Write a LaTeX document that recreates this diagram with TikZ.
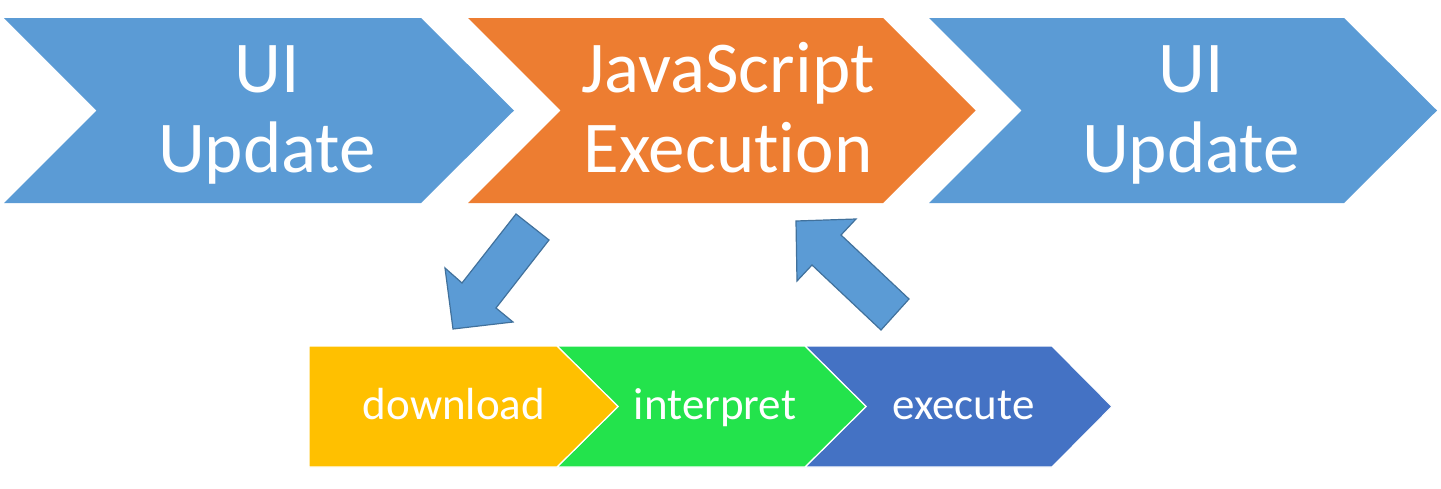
\documentclass[tikz,border=0pt]{standalone}
\usepackage{fontspec}
\setmainfont{Carlito}[Ligatures=NoCommon]
\usetikzlibrary{positioning}

\definecolor{uiblue}{HTML}{5B9BD5}
\definecolor{jsorange}{HTML}{ED7D31}
\definecolor{dlyellow}{HTML}{FFC000}
\definecolor{ipgreen}{HTML}{23E34C}
\definecolor{exblue}{HTML}{4472C4}
\definecolor{arrowedge}{HTML}{41719C}

\begin{document}
\begin{tikzpicture}[
  x=1pt,y=-1pt,
  phase/.style={draw=none},
  stage/.style={draw=white,line width=1.2pt,line join=miter},
  bigtext/.style={text=white,align=center,inner sep=0pt,font=\fontsize{73}{80}\selectfont},
  smalltext/.style={text=white,inner sep=0pt,anchor=base,font=\fontsize{45}{50}\selectfont},
  blockarrow/.style={fill=uiblue,draw=arrowedge,line width=1.2pt,line join=miter},
]
\useasboundingbox (0,0) rectangle (1441,488);

% top row
\fill[phase,uiblue] (4,18) -- (421,18) -- (514,110.5) -- (421,203) -- (4,203) -- (96.5,110.5) -- cycle;
\fill[phase,jsorange] (468,18) -- (883,18) -- (975.5,110.5) -- (883,203) -- (468,203) -- (560.5,110.5) -- cycle;
\fill[phase,uiblue] (929,18) -- (1344,18) -- (1437,110.5) -- (1344,203) -- (929,203) -- (1021.5,110.5) -- cycle;
\node[bigtext] (ui1) at (267,116) {\strut UI\\\strut Update};
\node[bigtext] (js) at (728,116) {\strut JavaScript\\\strut Execution};
\node[bigtext] (ui2) at (1191,116) {\strut UI\\\strut Update};

% bottom row
\filldraw[stage,fill=exblue] (805,346) -- (1052,346) -- (1112,406.5) -- (1052,467) -- (805,467) -- (866,406.5) -- cycle;
\filldraw[stage,fill=ipgreen] (557,346) -- (805,346) -- (866,406.5) -- (805,467) -- (557,467) -- (618,406.5) -- cycle;
\filldraw[stage,fill=dlyellow] (309,346) -- (557,346) -- (618,406.5) -- (557,467) -- (309,467) -- cycle;
\node[smalltext] (download) at (454,419) {download};
\node[smalltext] (interpret) at (715,419) {interpret};
\node[smalltext] (execute) at (963.5,419) {execute};

% block arrows
\draw[blockarrow] (453,329) -- (445,268) -- (462,283) -- (516,214) -- (549,240) -- (496,308) -- (513,322) -- cycle;
\draw[blockarrow] (796,221) -- (856,219) -- (841,235) -- (909,299) -- (881,330) -- (812,265) -- (797,281) -- cycle;
\end{tikzpicture}
\end{document}
